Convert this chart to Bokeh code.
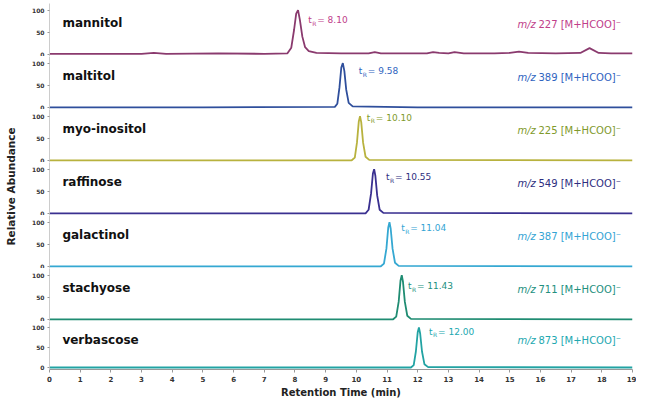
import math
from bokeh.plotting import figure
from bokeh.layouts import column, row
from bokeh.models import Range1d, FixedTicker, Label
from bokeh.embed import file_html
from bokeh.resources import INLINE
from bokeh.core.properties import value

# ---------------- data ----------------
x_ticks = list(range(0, 20))
y_ticks = [0, 50, 100]

compounds = ["mannitol", "maltitol", "myo-inositol", "raffinose",
             "galactinol", "stachyose", "verbascose"]
mz_values = ["227", "389", "225", "549", "387", "711", "873"]
rt_labels = ["8.10", "9.58", "10.10", "10.55", "11.04", "11.43", "12.00"]

t_mannitol = [0, 1.5, 3.0, 3.4, 3.8, 5.5, 7.0, 7.75, 7.88, 7.97, 8.04, 8.1, 8.16, 8.24,
              8.33, 8.45, 8.7, 9.5, 10.4, 10.6, 10.8, 12.3, 12.5, 12.7, 13.0, 13.2, 13.5,
              14.5, 15.0, 15.3, 15.6, 16.5, 17.3, 17.6, 17.9, 18.3, 19.0]
a_mannitol = [1, 1, 1, 3, 1, 2, 1, 2, 15, 55, 92, 100, 78, 40,
              16, 7, 3, 2, 2, 5, 2, 2, 5, 3, 2, 5, 2,
              2, 3, 6, 3, 2, 3, 14, 3, 2, 2]

t_maltitol = [0, 5.0, 9.3, 9.38, 9.45, 9.51, 9.56, 9.61, 9.67, 9.75, 9.88, 12.0, 19.0]
a_maltitol = [0, 0, 1, 8, 45, 90, 100, 82, 40, 10, 2, 0, 0]

t_myo = [0, 9.85, 9.95, 10.02, 10.08, 10.12, 10.16, 10.22, 10.3, 10.42, 19.0]
a_myo = [0, 0, 6, 40, 88, 100, 86, 40, 8, 1, 0]

t_raffinose = [0, 10.3, 10.4, 10.48, 10.54, 10.58, 10.62, 10.68, 10.76, 10.88, 19.0]
a_raffinose = [0, 0, 8, 45, 90, 100, 85, 40, 8, 1, 0]

t_galactinol = [0, 10.8, 10.9, 10.98, 11.04, 11.08, 11.12, 11.18, 11.26, 11.38, 19.0]
a_galactinol = [0, 0, 6, 40, 88, 100, 85, 40, 8, 1, 0]

t_stachyose = [0, 11.2, 11.3, 11.38, 11.44, 11.48, 11.52, 11.58, 11.66, 11.78, 19.0]
a_stachyose = [0, 0, 6, 40, 88, 100, 85, 40, 8, 1, 0]

t_verbascose = [0, 11.78, 11.87, 11.94, 12.0, 12.04, 12.08, 12.14, 12.22, 12.34, 19.0]
a_verbascose = [0, 0, 6, 40, 88, 100, 85, 40, 8, 1, 0]

times = [t_mannitol, t_maltitol, t_myo, t_raffinose, t_galactinol, t_stachyose, t_verbascose]
abund = [a_mannitol, a_maltitol, a_myo, a_raffinose, a_galactinol, a_stachyose, a_verbascose]

# ---------------- style / layout ----------------
line_colors = ["#8a3a6e", "#2f4f9c", "#b8b23e", "#3a3090", "#35a8d2", "#1f8c72", "#22a3a3"]
text_colors = ["#c0408a", "#3064c0", "#7f9a2c", "#2e2e80", "#34a4d4", "#22907e", "#22a8b0"]
rt_dx = [0.33, 0.50, 0.24, 0.42, 0.42, 0.25, 0.37]
rt_y = [77, 82, 96, 82, 86, 75, 90]

FONT = "DejaVu Sans"
PANEL_W = 614
FRAME_H = 53
n = len(compounds)

x_range = Range1d(0, 19)
panels = []
for i in range(n):
    top = 3 if i == 0 else 0
    bottom = 26 if i == n - 1 else 0
    p = figure(width=PANEL_W, height=FRAME_H + top + bottom,
               x_range=x_range, y_range=Range1d(-5, 115),
               output_backend="svg", toolbar_location=None,
               min_border_left=27, min_border_right=4,
               min_border_top=top, min_border_bottom=bottom)
    p.outline_line_color = None
    p.xgrid.visible = False
    p.ygrid.visible = False
    p.background_fill_color = "white"

    p.yaxis.ticker = FixedTicker(ticks=y_ticks)
    p.yaxis.major_label_text_font_size = "6px"
    p.yaxis.major_label_text_font = FONT
    p.yaxis.major_label_text_font_style = "bold"
    p.yaxis.major_label_text_color = "#333333"
    p.yaxis.major_tick_out = 2
    p.yaxis.major_tick_in = 0
    p.yaxis.minor_tick_line_color = None
    p.yaxis.axis_line_color = "#cccccc"
    p.yaxis.major_tick_line_color = "#999999"
    p.yaxis.major_label_standoff = 3

    if i == n - 1:
        p.xaxis.ticker = FixedTicker(ticks=x_ticks)
        p.xaxis.major_label_text_font_size = "7px"
        p.xaxis.major_label_text_font = FONT
        p.xaxis.major_label_text_font_style = "bold"
        p.xaxis.major_label_text_color = "#333333"
        p.xaxis.major_tick_out = 3
        p.xaxis.major_tick_in = 0
        p.xaxis.minor_tick_line_color = None
        p.xaxis.axis_line_color = "#999999"
        p.xaxis.major_tick_line_color = "#999999"
        p.xaxis.major_label_standoff = 3
        p.xaxis.axis_label = "Retention Time (min)"
        p.xaxis.axis_label_text_font = FONT
        p.xaxis.axis_label_text_font_size = "10px"
        p.xaxis.axis_label_text_font_style = "bold"
        p.xaxis.axis_label_text_color = "#222222"
        p.xaxis.axis_label_standoff = 2
    else:
        p.xaxis.visible = False

    p.line(times[i], abund[i], line_color=line_colors[i], line_width=1.8)

    # compound name
    p.text(x=[0.42], y=[70], text=[compounds[i]], text_font=value(FONT),
           text_font_size="12px", text_font_style="bold", text_color="#111111",
           text_baseline="middle", text_align="left")

    # m/z label
    p.text(x=[15.25], y=[68], text=["m/z"], text_font=value(FONT),
           text_font_size="10px", text_font_style="italic", text_color=text_colors[i],
           text_baseline="middle", text_align="left")
    p.text(x=[15.25], y=[68], text=[mz_values[i] + " [M+HCOO]\u207B"], text_font=value(FONT),
           text_font_size="10px", text_color=text_colors[i],
           text_baseline="middle", text_align="left", x_offset=21)

    # retention time label  t_R= x.xx
    rt = float(rt_labels[i])
    p.text(x=[rt + rt_dx[i]], y=[rt_y[i]], text=["t"], text_font=value(FONT),
           text_font_size="9px", text_color=text_colors[i],
           text_baseline="middle", text_align="left")
    p.text(x=[rt + rt_dx[i]], y=[rt_y[i]], text=["R"], text_font=value(FONT),
           text_font_size="6px", text_color=text_colors[i],
           text_baseline="middle", text_align="left", x_offset=4, y_offset=3)
    p.text(x=[rt + rt_dx[i]], y=[rt_y[i]], text=["= " + rt_labels[i]], text_font=value(FONT),
           text_font_size="9px", text_color=text_colors[i],
           text_baseline="middle", text_align="left", x_offset=9)
    panels.append(p)

total_h = sum(pp.height for pp in panels)

lab = figure(width=22, height=total_h, x_range=Range1d(0, 22), y_range=Range1d(0, total_h),
             output_backend="svg", toolbar_location=None,
             min_border_left=0, min_border_right=0, min_border_top=0, min_border_bottom=0)
lab.axis.visible = False
lab.grid.visible = False
lab.outline_line_color = None
lab.add_layout(Label(x=10, y=total_h - 186, text="Relative Abundance", angle=math.pi / 2,
                     text_font=FONT, text_font_size="10.5px", text_font_style="bold",
                     text_color="#222222", text_align="center", text_baseline="middle"))

layout = row(lab, column(*panels, spacing=0), spacing=0)

with open("out.html", "w") as f:
    f.write(file_html(layout, INLINE))
